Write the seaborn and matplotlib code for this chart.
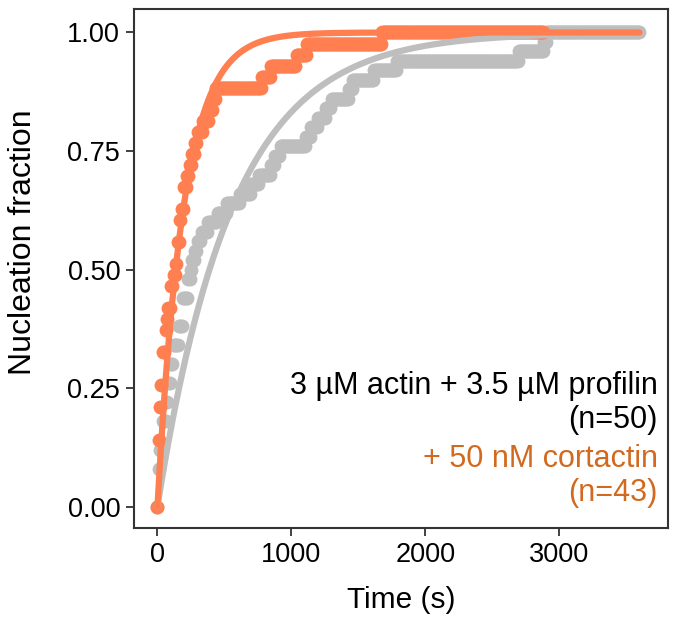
import numpy as np
import pandas as pd
import matplotlib
matplotlib.use('Agg')
import matplotlib.pyplot as plt
import seaborn as sns

# nucleation times (s) of each filament
grey_times = [10, 10, 10, 10, 20, 20, 40, 40, 40, 70, 70, 80, 80, 100, 100,
              120, 120, 160, 160, 190, 190, 190, 230, 230, 250, 260, 280, 300,
              330, 380, 450, 520, 620, 700, 760, 850, 880, 920, 1110, 1150,
              1200, 1260, 1300, 1430, 1460, 1620, 1790, 2700, 2890, 2910]
orange_times = [10, 10, 10, 10, 10, 10, 20, 20, 20, 30, 30, 40, 40, 40, 60,
                60, 70, 80, 100, 100, 120, 140, 150, 150, 170, 170, 180, 200,
                200, 220, 240, 260, 280, 300, 340, 390, 420, 440, 780, 850,
                1040, 1120, 1680]
grey_end = 3600
orange_end = 2880
frame_step = 10

# single-exponential fit time constants (s)
grey_tau = 560
orange_tau = 195

label_grey = '3 µM actin + 3.5 µM profilin\n(n=50)'
label_orange = '+ 50 nM cortactin\n(n=43)'


def cumulative(times, end):
    times = np.sort(np.array(times))
    frames = np.arange(0, end + 1, frame_step)
    frac = np.searchsorted(times, frames, side='right') / len(times)
    return pd.DataFrame({'t': frames, 'frac': frac})


def fit_curve(tau, end):
    t = np.linspace(0, end, 400)
    return pd.DataFrame({'t': t, 'frac': 1 - np.exp(-t / tau)})


grey_df = cumulative(grey_times, grey_end)
orange_df = cumulative(orange_times, orange_end)
t_max = max(grey_end, orange_end)

sns.set_style('ticks')
plt.rcParams['font.family'] = ['Liberation Sans', 'DejaVu Sans']
plt.rcParams['text.color'] = 'black'
plt.rcParams['axes.labelcolor'] = 'black'
plt.rcParams['xtick.color'] = 'black'
plt.rcParams['ytick.color'] = 'black'

fig, ax = plt.subplots(figsize=(6.77, 6.27), dpi=100)
fig.subplots_adjust(left=0.198, right=0.987, top=0.986, bottom=0.158)

sns.scatterplot(data=grey_df, x='t', y='frac', color='#BEBEBE', s=100,
                linewidth=0, ax=ax, zorder=2)
sns.scatterplot(data=orange_df, x='t', y='frac', color='#FF7F50', s=100,
                linewidth=0, ax=ax, zorder=3)
sns.lineplot(data=fit_curve(grey_tau, t_max), x='t', y='frac',
             color='#BEBEBE', linewidth=4.5, ax=ax, zorder=4)
sns.lineplot(data=fit_curve(orange_tau, t_max), x='t', y='frac',
             color='#FF7F50', linewidth=4.5, ax=ax, zorder=5)

ax.set_xlim(-175, 3815)
ax.set_ylim(-0.045, 1.05)
ax.set_xticks([0, 1000, 2000, 3000])
ax.set_yticks([0, 0.25, 0.5, 0.75, 1.0])
ax.set_yticklabels(['0.00', '0.25', '0.50', '0.75', '1.00'])
ax.tick_params(labelsize=19.5, length=6, width=1.3, color='#333333', pad=4)
ax.set_xlabel('Time (s)', fontsize=21.5, labelpad=13)
ax.set_ylabel('Nucleation fraction', fontsize=23)
ax.yaxis.set_label_coords(-0.18, 0.55)
for sp in ax.spines.values():
    sp.set_linewidth(1.5)
    sp.set_color('#333333')

ax.text(0.98, 0.241, label_grey, transform=ax.transAxes, ha='right',
        va='center', fontsize=22, color='black', linespacing=1.2,
        multialignment='right')
ax.text(0.98, 0.10, label_orange, transform=ax.transAxes, ha='right',
        va='center', fontsize=22, color='#D2691E', linespacing=1.2,
        multialignment='right')

fig.savefig('out.png', dpi=100)
